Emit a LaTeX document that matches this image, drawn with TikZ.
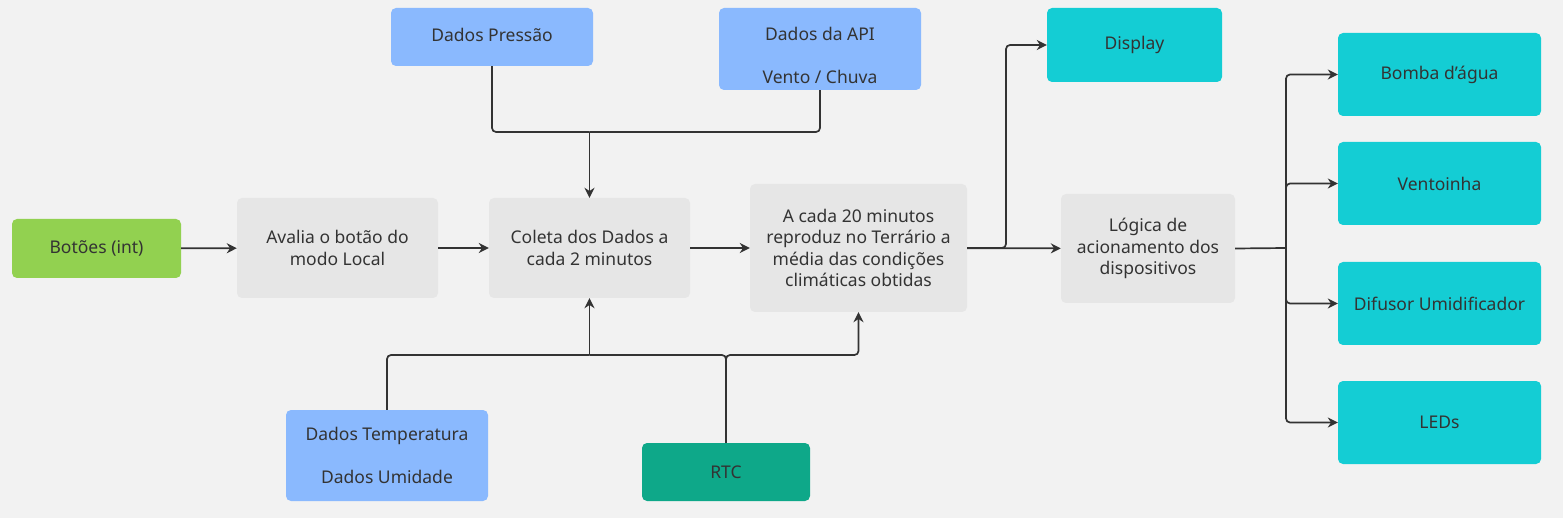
\documentclass[tikz,border=0pt]{standalone}
\usepackage{fontspec}
\setmainfont{Noto Sans}
\usetikzlibrary{arrows.meta,positioning}
\definecolor{BgGray}{HTML}{F2F2F2}
\definecolor{StepGray}{HTML}{E6E6E6}
\definecolor{DataBlue}{HTML}{8AB9FE}
\definecolor{BtnGreen}{HTML}{92D150}
\definecolor{RtcGreen}{HTML}{0EA889}
\definecolor{OutCyan}{HTML}{14CDD4}
\definecolor{InkGray}{HTML}{333333}
\tikzset{
  blk/.style={rounded corners=5pt, inner sep=0pt, align=center, text=InkGray,
    font=\fontsize{17.5}{21.5}\selectfont},
  stepbox/.style={blk, fill=StepGray},
  databox/.style={blk, fill=DataBlue, minimum width=202pt},
  btnbox/.style={blk, fill=BtnGreen},
  rtcbox/.style={blk, fill=RtcGreen},
  outbox/.style={blk, fill=OutCyan},
  flow/.style={-{Stealth[length=10pt,width=10pt]}, line width=1.7pt, InkGray, rounded corners=4pt},
  link/.style={line width=1.7pt, InkGray, rounded corners=4pt},
}

\begin{document}
\begin{tikzpicture}[x=1pt, y=-1pt]
  \fill[BgGray] (0,0) rectangle (1563,518);
  \useasboundingbox (0,0) rectangle (1563,518);
  % main chain
  \node[btnbox, minimum width=169pt, minimum height=59pt] (btn) at (96.5,248.5) {Botões (int)};
  \node[stepbox, minimum width=201pt, minimum height=100pt] (avalia) at (337.5,248) {Avalia o botão do\\modo Local};
  \node[stepbox, minimum width=201pt, minimum height=100pt] (coleta) at (589.5,248) {Coleta dos Dados a\\cada 2 minutos};
  \node[stepbox, minimum width=217pt, minimum height=128pt] (terrario) at (858.5,248) {A cada 20 minutos\\reproduz no Terrário a\\média das condições\\climáticas obtidas};
  \node[stepbox, minimum width=174pt, minimum height=109pt] (logica) at (1148,248.5) {Lógica de\\acionamento dos\\dispositivos};
  % data sources
  \node[databox, minimum height=58pt] (pressao) at (492,37) {Dados Pressão\rule[-4pt]{0pt}{4pt}};
  \node[databox, minimum height=82pt] (api) at (820,49) {\rule{0pt}{26pt}Dados da API\\[21.5pt]Vento / Chuva};
  \node[databox, minimum height=91pt] (temp) at (387,455.5) {Dados Temperatura\\[21.5pt]Dados Umidade};
  \node[rtcbox, minimum width=168pt, minimum height=58pt] (rtc) at (726,472) {RTC};
  % outputs
  \node[outbox, minimum width=175pt, minimum height=74pt] (display) at (1134.5,45) {Display};
  \node[outbox, minimum width=203pt, minimum height=83pt] (bomba) at (1439.5,74.5) {Bomba d'água};
  \node[outbox, minimum width=203pt, minimum height=83pt] (vent) at (1439.5,183.5) {Ventoinha};
  \node[outbox, minimum width=203pt, minimum height=83pt] (difusor) at (1439.5,303.5) {Difusor Umidificador};
  \node[outbox, minimum width=203pt, minimum height=83pt] (leds) at (1439.5,422.5) {LEDs};
  % junctions
  \coordinate (topjoin) at (589.5,132);
  \coordinate (botjoin) at (589.5,355);
  \coordinate (rtcturn) at (858.5,355);
  \coordinate (split1) at (1006,248);
  \coordinate (split2) at (1286,248);
  % connectors
  \draw[flow] (btn) -- (avalia);
  \draw[flow] (avalia) -- (coleta);
  \draw[flow] (coleta) -- (terrario);
  \draw[flow] (terrario) -- (logica);
  \draw[flow] (terrario.east) -- (split1) |- (display.west);
  \draw[link] (pressao.south) |- (topjoin);
  \draw[link] (api.south) |- (topjoin);
  \draw[flow] (topjoin) -- (coleta.north);
  \draw[link] (temp.north) |- (botjoin);
  \draw[link] (rtc.north) |- (botjoin);
  \draw[flow] (botjoin) -- (coleta.south);
  \draw[flow] (rtc.north) |- (rtcturn) -- (terrario.south);
  \draw[link] (logica.east) -- (split2);
  \foreach \n in {bomba,vent,difusor,leds}
    \draw[flow] (split2) |- (\n.west);
\end{tikzpicture}
\end{document}
